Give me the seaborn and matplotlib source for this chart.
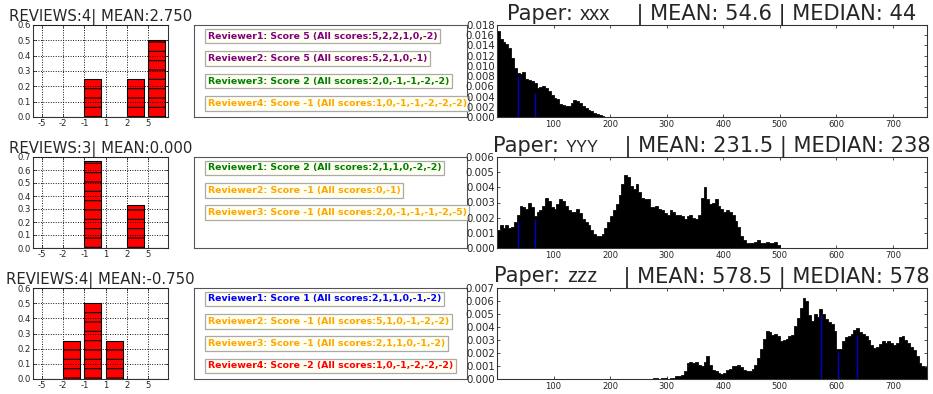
import numpy as np
import pandas as pd
import matplotlib
matplotlib.use("Agg")
import matplotlib.pyplot as plt
import seaborn as sns
from matplotlib.offsetbox import TextArea, HPacker, AnchoredOffsetbox
from matplotlib.ticker import FormatStrFormatter, MultipleLocator

# ---------------------------------------------------------------- data
score_levels = [-5, -2, -1, 1, 2, 5]
paper_ids = ["xxx", "YYY", "zzz"]

# score each reviewer gave the paper, and every score that reviewer handed out
paper_scores = [
    [5, 5, 2, -1],
    [2, -1, -1],
    [1, -1, -1, -2],
]
reviewer_history = [
    [[5, 2, 2, 1, 0, -2], [5, 2, 1, 0, -1], [2, 0, -1, -1, -2, -2], [1, 0, -1, -1, -2, -2, -2]],
    [[2, 1, 1, 0, -2, -2], [0, -1], [2, 0, -1, -1, -1, -2, -5]],
    [[2, 1, 1, 0, -1, -2], [5, 1, 0, -1, -2, -2], [2, 1, 1, 0, -1, -2], [1, 0, -1, -2, -2, -2]],
]
score_colors = {5: "#800080", 2: "#008000", 1: "#0000ff", -1: "#ffa500", -2: "#ff0000"}

# rank distributions (bin width 5)
bin_width = 5
hist_start = [0, 0, 275]
hist_xxx = [0.0168, 0.0152, 0.0146, 0.0142, 0.0135, 0.0115, 0.0095, 0.0087, 0.0085, 0.0088,
            0.0075, 0.0073, 0.0071, 0.0066, 0.0057, 0.0058, 0.0060, 0.0056, 0.0050, 0.0043,
            0.0038, 0.0035, 0.0025, 0.0023, 0.0021, 0.0022, 0.0028, 0.0033, 0.0031, 0.0027,
            0.0021, 0.0017, 0.0014, 0.0011, 0.0008, 0.0005, 0.0003, 0.0001]
hist_yyy = [0.0012, 0.0015, 0.0013, 0.0015, 0.0013, 0.0014, 0.0017, 0.0022, 0.0028, 0.0027,
            0.0026, 0.0030, 0.0027, 0.0021, 0.0024, 0.0025, 0.0028, 0.0033, 0.0031, 0.0027,
            0.0026, 0.0029, 0.0032, 0.0031, 0.0028, 0.0025, 0.0024, 0.0024, 0.0026, 0.0023,
            0.0019, 0.0017, 0.0015, 0.0012, 0.0009, 0.0008, 0.0008, 0.0009, 0.0013, 0.0017,
            0.0021, 0.0025, 0.0029, 0.0035, 0.0042, 0.0048, 0.0047, 0.0041, 0.0039, 0.0042,
            0.0037, 0.0033, 0.0032, 0.0032, 0.0027, 0.0027, 0.0028, 0.0026, 0.0025, 0.0023,
            0.0022, 0.0025, 0.0024, 0.0022, 0.0022, 0.0021, 0.0019, 0.0021, 0.0022, 0.0020,
            0.0019, 0.0022, 0.0033, 0.0040, 0.0032, 0.0029, 0.0030, 0.0032, 0.0028, 0.0026,
            0.0024, 0.0025, 0.0024, 0.0022, 0.0018, 0.0014, 0.0008, 0.0005, 0.0003, 0.0003,
            0.0003, 0.0004, 0.0005, 0.0003, 0.0003, 0.0004, 0.0003, 0.0003, 0.0004, 0.0002]
hist_zzz = [0.0001, 0.0001, 0.0000, 0.0001, 0.0001, 0.0000, 0.0001, 0.0001, 0.0002, 0.0002,
            0.0003, 0.0006, 0.0012, 0.0013, 0.0012, 0.0013, 0.0011, 0.0010, 0.0013, 0.0018,
            0.0011, 0.0007, 0.0006, 0.0005, 0.0004, 0.0005, 0.0007, 0.0008, 0.0010, 0.0010,
            0.0011, 0.0009, 0.0007, 0.0006, 0.0006, 0.0008, 0.0011, 0.0016, 0.0023, 0.0031,
            0.0037, 0.0036, 0.0034, 0.0035, 0.0033, 0.0029, 0.0030, 0.0031, 0.0033, 0.0034,
            0.0041, 0.0047, 0.0055, 0.0062, 0.0060, 0.0049, 0.0045, 0.0050, 0.0048, 0.0054,
            0.0050, 0.0046, 0.0044, 0.0042, 0.0037, 0.0023, 0.0023, 0.0029, 0.0032, 0.0033,
            0.0035, 0.0038, 0.0039, 0.0036, 0.0035, 0.0033, 0.0030, 0.0026, 0.0024, 0.0025,
            0.0027, 0.0029, 0.0028, 0.0029, 0.0028, 0.0026, 0.0028, 0.0032, 0.0033, 0.0030,
            0.0028, 0.0025, 0.0022, 0.0018, 0.0012, 0.0010, 0.0009]
hist_heights = [hist_xxx, hist_yyy, hist_zzz]
hist_ymax = [0.018, 0.006, 0.007]
hist_ystep = [0.002, 0.001, 0.001]
rank_mean = [54.6, 231.5, 578.5]
rank_median = [44, 238, 578]

# ranks of this paper among each reviewer's papers
marker_pos = [[37, 68], [37, 68], [573, 603, 636]]
marker_height = [[0.0080, 0.0046], [0.0018, 0.0019], [0.0049, 0.0021, 0.0034]]

bar_ymax = [0.6, 0.7, 0.6]

# ---------------------------------------------------------------- style
DPI = 112
W, H = 934, 394
sns.set_style("ticks")
plt.rcParams["font.family"] = ["DejaVu Sans"]
plt.rcParams["hatch.linewidth"] = 0.7
plt.rcParams["axes.linewidth"] = 0.7
plt.rcParams["xtick.direction"] = "in"
plt.rcParams["ytick.direction"] = "in"
plt.rcParams["xtick.top"] = True
plt.rcParams["ytick.right"] = True
plt.rcParams["axes.edgecolor"] = "#333333"

fig = plt.figure(figsize=(W / DPI, H / DPI), dpi=DPI)
fig.patch.set_facecolor("white")


def frame(x0, y0, x1, y1):
    return [x0 / W, 1 - y1 / H, (x1 - x0) / W, (y1 - y0) / H]


row_top = [25, 157, 288]
row_bot = [117, 248, 379]

for r in range(3):
    scores = paper_scores[r]
    n = len(scores)
    shares = [scores.count(s) / n for s in score_levels]
    mean = float(np.mean(scores))

    # --- score distribution
    ax = fig.add_axes(frame(33, row_top[r], 168, row_bot[r]))
    df = pd.DataFrame({"score": [str(s) for s in score_levels], "share": shares})
    sns.barplot(data=df, x="score", y="share", order=list(df["score"]), color="#ff0000",
                saturation=1, width=0.8, edgecolor="black", linewidth=0.7,
                hatch="--", errorbar=None, ax=ax)
    ax.set_xlabel("")
    ax.set_ylabel("")
    ax.set_xticks(np.arange(len(score_levels)) - 0.4)
    ax.set_xticklabels([str(s) for s in score_levels])
    ax.set_xlim(-0.82, 5.54)
    ax.set_ylim(0, bar_ymax[r])
    ax.yaxis.set_major_locator(MultipleLocator(0.1))
    ax.yaxis.set_major_formatter(FormatStrFormatter("%.1f"))
    ax.grid(True, linestyle=":", color="black", linewidth=0.6)
    ax.set_axisbelow(False)
    ax.tick_params(labelsize=5.5, length=2, width=0.5, pad=1.5)
    for s in ax.spines.values():
        s.set_visible(True)
    ax.set_title(f"REVIEWS:{n}| MEAN:{mean:.3f}", fontsize=9.6, pad=1.5)

    # --- reviewer boxes
    ax = fig.add_axes(frame(194, row_top[r], 467, row_bot[r]))
    ax.set_xticks([])
    ax.set_yticks([])
    for s in ax.spines.values():
        s.set_color("#555555")
        s.set_linewidth(0.7)
    for j, (sc, hist) in enumerate(zip(scores, reviewer_history[r])):
        label = f"Reviewer{j + 1}: Score {sc} (All scores:{','.join(str(v) for v in hist)})"
        ax.text(0.05, 0.88 - 0.245 * j, label, transform=ax.transAxes, ha="left",
                va="center", fontsize=6, fontweight="bold", color=score_colors[sc],
                bbox=dict(boxstyle="square,pad=0.3", fc="#fffff2", ec="#aaaaaa", lw=0.8))

    # --- rank distribution
    ax = fig.add_axes(frame(497, row_top[r], 927, row_bot[r]))
    heights = hist_heights[r]
    start = hist_start[r]
    end = start + bin_width * len(heights)
    ranks = start + bin_width * np.arange(len(heights)) + bin_width / 2
    hdf = pd.DataFrame({"rank": ranks, "density": heights})
    sns.histplot(data=hdf, x="rank", weights="density", binwidth=bin_width,
                 binrange=(start, end), element="step", fill=True,
                 color="black", alpha=1, linewidth=0.5, ax=ax)
    ax.vlines(marker_pos[r], 0, marker_height[r], color="#0000cc", linewidth=0.9)
    ax.set_xlabel("")
    ax.set_ylabel("")
    ax.set_xlim(0, 760)
    ax.set_ylim(0, hist_ymax[r])
    ax.set_xticks([100, 200, 300, 400, 500, 600, 700])
    ax.yaxis.set_major_locator(MultipleLocator(hist_ystep[r]))
    ax.yaxis.set_major_formatter(FormatStrFormatter("%.3f"))
    ax.tick_params(axis="x", labelsize=5.5, length=2, width=0.5, pad=2)
    ax.tick_params(axis="y", labelsize=6.5, length=2, width=0.5, pad=1.5)
    for s in ax.spines.values():
        s.set_visible(True)

    title = HPacker(children=[
        TextArea("Paper: ", textprops=dict(size=13.5)),
        TextArea(paper_ids[r], textprops=dict(
            size=10.5 if paper_ids[r].isupper() else 13,
            family=["Liberation Sans Narrow", "Liberation Sans", "DejaVu Sans"])),
        TextArea(f"    | MEAN: {rank_mean[r]} | MEDIAN: {rank_median[r]}",
                 textprops=dict(size=13.5)),
    ], align="baseline", pad=0, sep=0)
    ax.add_artist(AnchoredOffsetbox(loc="lower center", child=title, pad=0, borderpad=0,
                                    bbox_to_anchor=(0.5, 1.0), bbox_transform=ax.transAxes,
                                    frameon=False))

fig.savefig("out.png", dpi=DPI, facecolor="white")
